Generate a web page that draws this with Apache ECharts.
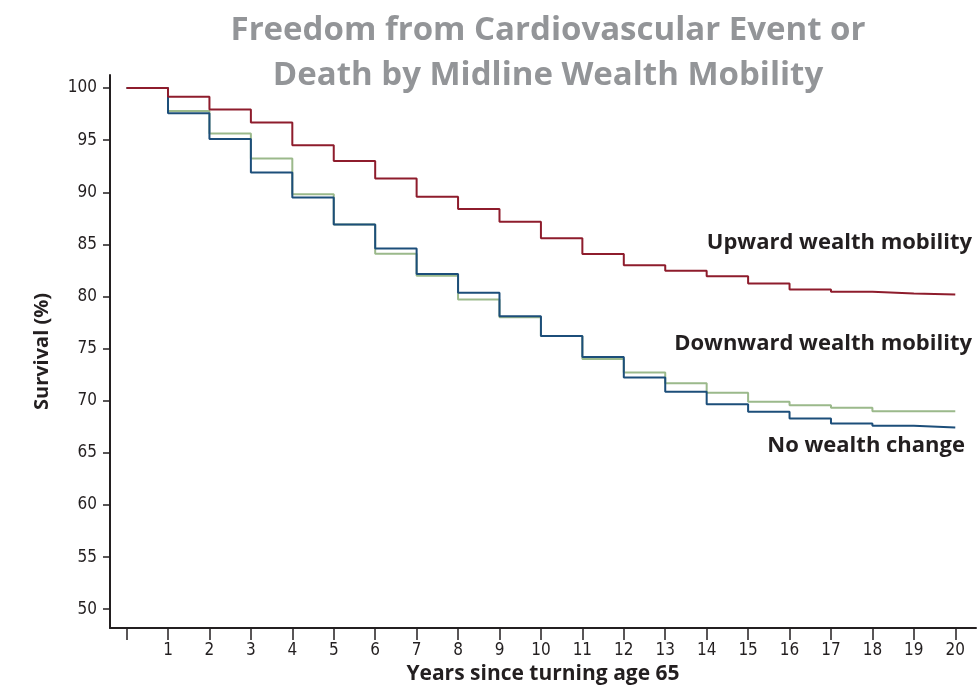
<!DOCTYPE html>
<html>
<head>
<meta charset="utf-8">
<title>Freedom from Cardiovascular Event or Death</title>
<script src="https://cdn.jsdelivr.net/npm/echarts@6/dist/echarts.min.js"></script>
<style>
  html, body { margin: 0; padding: 0; background: #fff; }
  #chart { width: 977px; height: 689px; }
</style>
</head>
<body>
<div id="chart"></div>
<script>
  // years since turning 65 (step positions)
  var years = [0, 1, 2, 3, 4, 5, 6, 7, 8, 9, 10, 11, 12, 13, 14, 15, 16, 17, 18, 19, 20];
  // survival (%), value held from that year to the next
  var upward = [100, 99.17, 97.95, 96.7, 94.5, 93.0, 91.33, 89.57, 88.39, 87.17, 85.6,
    84.07, 83.0, 82.47, 81.95, 81.25, 80.68, 80.45, 80.3, 80.2, 80.2];
  var noChange = [100, 97.57, 95.1, 91.9, 89.5, 86.9, 84.6, 82.15, 80.36, 78.1, 76.2,
    74.2, 72.24, 70.86, 69.67, 68.95, 68.3, 67.82, 67.6, 67.44, 67.44];
  var downward = [100, 97.8, 95.65, 93.25, 89.8, 86.9, 84.1, 81.99, 79.72, 78.0, 76.2,
    74.0, 72.7, 71.67, 70.77, 69.9, 69.58, 69.32, 69.0, 69.0, 69.0];
  var xTicks = [0, 1, 2, 3, 4, 5, 6, 7, 8, 9, 10, 11, 12, 13, 14, 15, 16, 17, 18, 19, 20];
  var xLabels = [1, 2, 3, 4, 5, 6, 7, 8, 9, 10, 11, 12, 13, 14, 15, 16, 17, 18, 19, 20];
  var yTicks = [50, 55, 60, 65, 70, 75, 80, 85, 90, 95, 100];

  var narrow = "'Liberation Sans Narrow', 'DejaVu Sans Condensed', 'Liberation Sans', sans-serif";
  var bold = "'Open Sans', 'Noto Sans', sans-serif";

  function pairs(vals) {
    return years.map(function (x, i) { return [x, vals[i]]; });
  }

  function stepLine(name, vals, color) {
    return {
      name: name,
      type: 'line',
      step: 'end',
      symbol: 'none',
      data: pairs(vals),
      lineStyle: { color: color, width: 2 },
      z: 3
    };
  }

  var chart = echarts.init(document.getElementById('chart'));
  chart.setOption({
    animation: false,
    backgroundColor: '#fff',
    title: {
      text: 'Freedom from Cardiovascular Event or\nDeath by Midline Wealth Mobility',
      left: 543,
      textAlign: 'center',
      top: 3,
      textStyle: {
        color: '#939598',
        fontFamily: bold,
        fontWeight: 'bold',
        fontSize: 33,
        lineHeight: 45
      }
    },
    grid: { left: 110, right: 1, top: 75, bottom: 61, containLabel: false, outerBoundsMode: 'none' },
    xAxis: {
      type: 'value',
      min: -0.4,
      max: 20.5,
      name: 'Years since turning age 65',
      nameLocation: 'middle',
      nameGap: 36,
      nameTextStyle: { color: '#231f20', fontFamily: bold, fontWeight: 'bold', fontSize: 21 },
      axisLine: { show: true, onZero: false, lineStyle: { color: '#231f20', width: 2 } },
      axisTick: { show: true, length: 12, customValues: xTicks, lineStyle: { color: '#231f20', width: 1.5 } },
      axisLabel: { customValues: xLabels, margin: 14, color: '#231f20', fontFamily: narrow, fontSize: 17 },
      splitLine: { show: false }
    },
    yAxis: {
      type: 'value',
      min: 48.2,
      max: 101.25,
      name: 'Survival (%)',
      nameLocation: 'middle',
      nameGap: 58,
      nameRotate: 90,
      nameTextStyle: { color: '#231f20', fontFamily: bold, fontWeight: 'bold', fontSize: 20 },
      axisLine: { show: true, onZero: false, lineStyle: { color: '#231f20', width: 2 } },
      axisTick: { show: true, length: 7, customValues: yTicks, lineStyle: { color: '#231f20', width: 1.5 } },
      axisLabel: { customValues: yTicks, margin: 13, color: '#231f20', fontFamily: narrow, fontSize: 17 },
      splitLine: { show: false }
    },
    series: [
      stepLine('Downward wealth mobility', downward, '#9bb98b'),
      stepLine('No wealth change', noChange, '#1c4e7a'),
      stepLine('Upward wealth mobility', upward, '#8e1c2c')
    ],
    graphic: [
      { type: 'text', right: 5, top: 232, style: { text: 'Upward wealth mobility', fill: '#231f20', font: 'bold 22px ' + bold } },
      { type: 'text', right: 5, top: 333, style: { text: 'Downward wealth mobility', fill: '#231f20', font: 'bold 22px ' + bold } },
      { type: 'text', right: 12, top: 435, style: { text: 'No wealth change', fill: '#231f20', font: 'bold 22px ' + bold } }
    ]
  });
</script>
</body>
</html>
